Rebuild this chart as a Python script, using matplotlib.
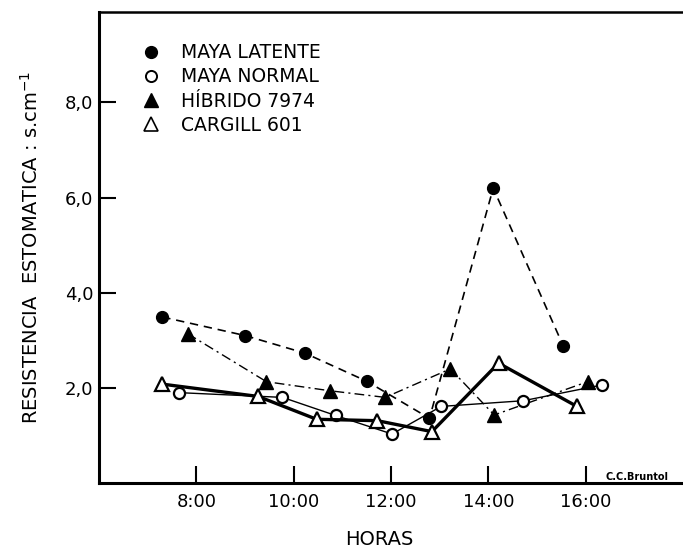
import matplotlib
matplotlib.use("Agg")
import matplotlib.pyplot as plt
from matplotlib.lines import Line2D

plt.rcParams['font.family'] = ['DejaVu Sans']

# Data (hours as decimal, stomatal resistance s.cm^-1)
latente_h = [7.30, 9.00, 10.23, 11.50, 12.79, 14.10, 15.54]
latente_v = [3.49, 3.10, 2.73, 2.14, 1.36, 6.20, 2.88]

normal_h = [7.64, 9.77, 10.86, 12.02, 13.03, 14.72, 16.33]
normal_v = [1.90, 1.80, 1.42, 1.03, 1.61, 1.73, 2.06]

hibrido_h = [7.82, 9.44, 10.74, 11.88, 13.22, 14.12, 16.04]
hibrido_v = [3.14, 2.13, 1.94, 1.80, 2.40, 1.43, 2.13]

cargill_h = [7.29, 9.27, 10.47, 11.72, 12.84, 14.21, 15.82]
cargill_v = [2.08, 1.82, 1.34, 1.31, 1.08, 2.52, 1.61]

labels = ["MAYA LATENTE", "MAYA NORMAL", "HÍBRIDO 7974", "CARGILL 601"]
xticks = [8, 10, 12, 14, 16]
xticklabels = ["8:00", "10:00", "12:00", "14:00", "16:00"]
yticks = [2, 4, 6, 8]
yticklabels = ["2,0", "4,0", "6,0", "8,0"]

fig = plt.figure(figsize=(6.83, 5.55), dpi=100)
ax = fig.add_axes([0.145, 0.1297, 0.855, 0.8486])

ax.plot(latente_h, latente_v, color='black', lw=1.2, ls=(0, (5, 3.5)),
        marker='o', ms=8.5, mfc='black', mec='black', zorder=3)
ax.plot(hibrido_h, hibrido_v, color='black', lw=1.0, ls=(0, (7, 3, 1.5, 3)),
        marker='^', ms=9.5, mfc='black', mec='black', zorder=3)
ax.plot(normal_h, normal_v, color='black', lw=1.0, ls='-',
        marker='o', ms=8.0, mfc='white', mec='black', mew=1.6, zorder=4)
ax.plot(cargill_h, cargill_v, color='black', lw=2.4, ls='-',
        marker='^', ms=10, mfc='white', mec='black', mew=1.6, zorder=4)

ax.set_xlim(6, 18)
ax.set_ylim(0, 9.9)
ax.set_xticks(xticks)
ax.set_xticklabels(xticklabels, fontsize=13)
ax.set_yticks(yticks)
ax.set_yticklabels(yticklabels, fontsize=13)
ax.tick_params(direction='in', length=12, width=1.5)
ax.tick_params(axis='y', pad=4)
ax.tick_params(axis='x', pad=7)

for s in ['left', 'bottom']:
    ax.spines[s].set_linewidth(2.2)
ax.spines['top'].set_linewidth(1.8)
ax.spines['right'].set_visible(False)

ax.set_ylabel("RESISTENCIA  ESTOMATICA : s.cm$^{-1}$", fontsize=14)
ax.yaxis.set_label_coords(-0.098, 0.5)
ax.set_xlabel("HORAS", fontsize=14)
ax.xaxis.set_label_coords(0.48, -0.1)

handles = [
    Line2D([], [], ls='none', marker='o', ms=8.5, mfc='black', mec='black'),
    Line2D([], [], ls='none', marker='o', ms=8, mfc='white', mec='black', mew=1.4),
    Line2D([], [], ls='none', marker='^', ms=10, mfc='black', mec='black'),
    Line2D([], [], ls='none', marker='^', ms=10, mfc='white', mec='black', mew=1.2),
]
leg = ax.legend(handles, labels, loc='upper left', bbox_to_anchor=(0.06, 0.95),
                frameon=False, fontsize=13.5, handlelength=1.0, handletextpad=1.1,
                labelspacing=0.28, borderaxespad=0)

ax.text(0.975, 0.003, "C.C.Bruntol", transform=ax.transAxes, fontsize=7,
        fontweight='bold', ha='right', va='bottom')

fig.savefig("out.png", dpi=100)
